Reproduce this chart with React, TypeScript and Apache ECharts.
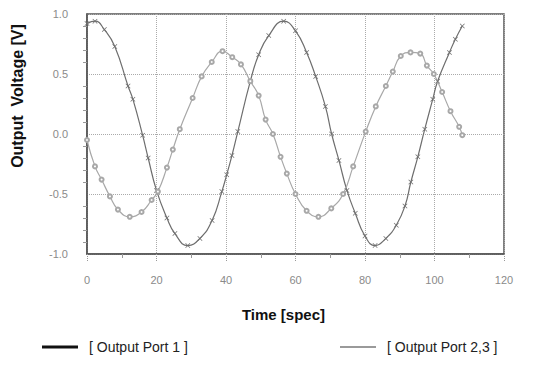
import React, { useEffect, useRef } from "react";
import * as echarts from "echarts";

const port1Time = [0, 2.3, 5, 8, 11.8, 13.2, 16, 17.6, 20, 23, 25.3, 29, 32.5, 36, 38.8, 40.2, 41.7, 43.4, 47, 49.4, 52.3, 56.6, 60, 63.2, 65.8, 68.6, 70.4, 72.5, 74.8, 77.2, 80, 82.9, 86, 89, 91.5, 93.2, 95.2, 97.2, 99.5, 100.9, 104.3, 106, 108];
const port1Volt = [0.92, 0.94, 0.87, 0.73, 0.4, 0.29, -0.01, -0.2, -0.47, -0.7, -0.83, -0.93, -0.87, -0.72, -0.48, -0.34, -0.18, 0.02, 0.44, 0.66, 0.82, 0.94, 0.86, 0.68, 0.48, 0.23, 0.0, -0.22, -0.47, -0.66, -0.85, -0.93, -0.87, -0.76, -0.6, -0.4, -0.19, 0.04, 0.29, 0.44, 0.68, 0.79, 0.9];

const port23Time = [0, 2.3, 4.2, 6.6, 8.9, 12.3, 15.7, 18.6, 20.4, 23, 24.7, 26.7, 30.4, 33, 35.9, 39, 41.8, 44.3, 47, 49.4, 51.4, 53.5, 55.7, 57.5, 60, 63.2, 66.6, 70.3, 73.7, 76.6, 80.2, 83.1, 86, 88, 90.3, 93.1, 95.9, 97.8, 99.8, 102.2, 104.6, 107.1, 108];
const port23Volt = [-0.05, -0.27, -0.38, -0.52, -0.63, -0.69, -0.65, -0.55, -0.48, -0.28, -0.13, 0.04, 0.3, 0.48, 0.6, 0.69, 0.64, 0.58, 0.44, 0.32, 0.12, 0.0, -0.19, -0.33, -0.5, -0.64, -0.69, -0.62, -0.5, -0.27, 0.02, 0.23, 0.4, 0.52, 0.65, 0.68, 0.67, 0.57, 0.5, 0.35, 0.19, 0.06, -0.01];

const seriesNames = ["[ Output Port 1 ]", "[ Output Port 2,3 ]"];
const xTitle = "Time [spec]";
const yTitle = "Output  Voltage [V]";

const xSymbol = "path://M0,1 L1,0 L5,4 L9,0 L10,1 L6,5 L10,9 L9,10 L5,6 L1,10 L0,9 L4,5 Z";

export default function App() {
  const ref = useRef<HTMLDivElement>(null);
  useEffect(() => {
    if (!ref.current) return;
    const chart = echarts.init(ref.current, null, { renderer: "svg" });
    const p1 = port1Time.map((t, i) => [t, port1Volt[i]]);
    const p2 = port23Time.map((t, i) => [t, port23Volt[i]]);
    const labelStyle = { color: "#8a8a8a", fontSize: 11, fontFamily: "Liberation Sans, Arial, sans-serif" };
    chart.setOption({
      animation: false,
      backgroundColor: "#ffffff",
      grid: {
        left: 87,
        right: 30,
        top: 14,
        bottom: 116,
        show: true,
        borderColor: "#555",
        borderWidth: 1.5,
      },
      xAxis: {
        type: "value",
        min: 0,
        max: 120,
        interval: 20,
        name: xTitle,
        nameLocation: "middle",
        nameGap: 53,
        nameTextStyle: {
          color: "#111",
          fontSize: 15,
          fontWeight: "bold",
          fontFamily: "Liberation Sans, Arial, sans-serif",
          padding: [0, 24, 0, 0],
        },
        axisLine: { show: true, onZero: false, lineStyle: { color: "#555", width: 1.5 } },
        axisTick: { show: true, length: 8, lineStyle: { color: "#999", type: "dotted" } },
        minorTick: { show: true, splitNumber: 2, length: 4, lineStyle: { color: "#999" } },
        axisLabel: { ...labelStyle, margin: 20 },
        splitLine: { show: true, lineStyle: { color: "#aaa", type: "dotted", width: 1 } },
      },
      yAxis: {
        type: "value",
        min: -1,
        max: 1,
        interval: 0.5,
        name: yTitle,
        nameLocation: "middle",
        nameGap: 62,
        nameRotate: 90,
        nameTextStyle: {
          color: "#111",
          fontSize: 16,
          fontWeight: "bold",
          fontFamily: "Liberation Sans, Arial, sans-serif",
          padding: [0, 0, 0, 76],
        },
        axisLine: { show: true, lineStyle: { color: "#555", width: 1.5 } },
        axisTick: { show: false },
        minorTick: { show: true, splitNumber: 5, length: 4, lineStyle: { color: "#999" } },
        axisLabel: { ...labelStyle, margin: 19, formatter: (v: number) => v.toFixed(1) },
        splitLine: { show: true, lineStyle: { color: "#aaa", type: "dotted", width: 1 } },
      },
      legend: [
        {
          data: [seriesNames[0]],
          left: 37,
          top: 335,
          icon: "rect",
          itemWidth: 36,
          itemHeight: 3,
          itemStyle: { color: "#111" },
          textStyle: { color: "#222", fontSize: 14, fontFamily: "Liberation Sans, Arial, sans-serif", padding: [0, 0, 0, 6] },
        },
        {
          data: [seriesNames[1]],
          left: 335,
          top: 335,
          icon: "rect",
          itemWidth: 36,
          itemHeight: 2,
          itemStyle: { color: "#9a9a9a" },
          textStyle: { color: "#222", fontSize: 14, fontFamily: "Liberation Sans, Arial, sans-serif", padding: [0, 0, 0, 6] },
        },
      ],
      series: [
        {
          name: seriesNames[0],
          type: "line",
          data: p1,
          smooth: true,
          symbol: xSymbol,
          symbolSize: 5,
          lineStyle: { color: "#6e6e6e", width: 1.2 },
          itemStyle: { color: "#6e6e6e" },
        },
        {
          name: seriesNames[1],
          type: "line",
          data: p2,
          smooth: true,
          symbol: "emptyCircle",
          symbolSize: 4,
          lineStyle: { color: "#a8a8a8", width: 1.2 },
          itemStyle: { color: "#a8a8a8", borderWidth: 1 },
        },
      ],
    });
    return () => chart.dispose();
  }, []);
  return (
    <div
      ref={ref}
      style={{ position: "fixed", left: 0, top: 0, width: 534, height: 370, background: "#fff" }}
    />
  );
}
